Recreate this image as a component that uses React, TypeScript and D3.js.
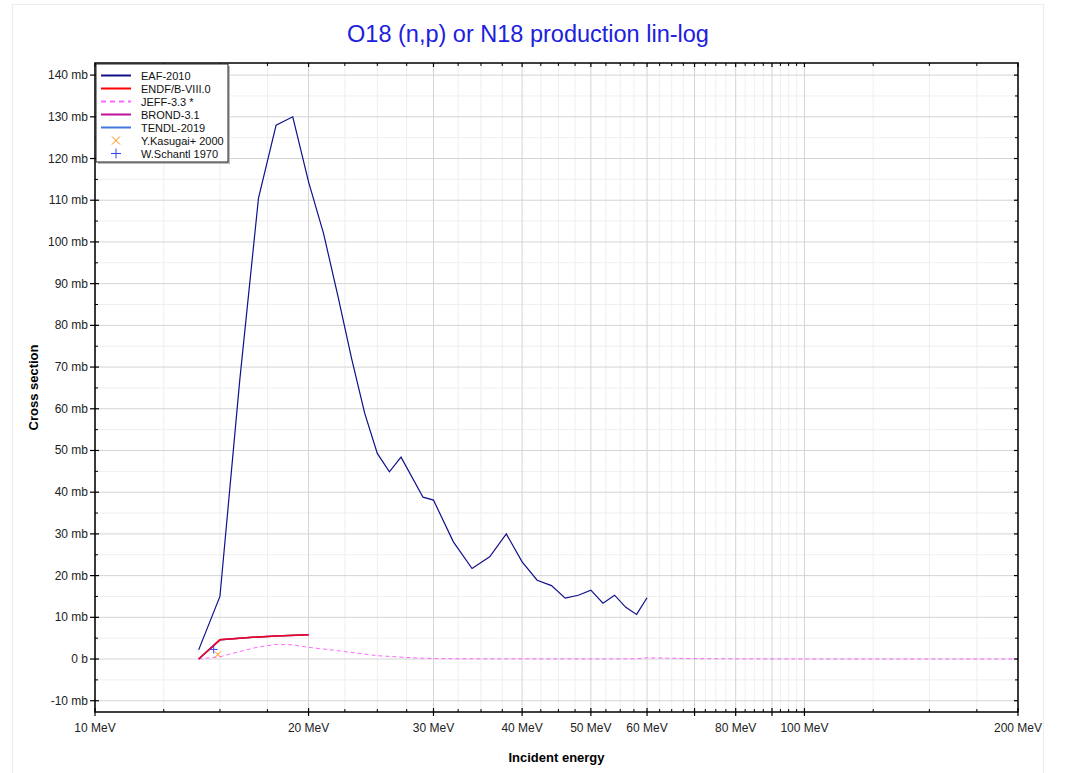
import { useEffect, useRef } from "react";
import * as d3 from "d3";

// EAF-2010
const eafE = [14, 15, 16, 17, 18, 19, 20, 21, 22, 23, 24, 25, 26, 27, 29, 30, 32, 34, 36, 38, 40, 42, 44, 46, 48, 50, 52, 54, 56, 58, 60];
const eafV = [2.2, 15, 67, 110.5, 128, 130, 114.4, 102, 87, 72, 58.9, 49.3, 44.9, 48.4, 38.8, 38.1, 28.1, 21.7, 24.5, 30, 23.3, 18.9, 17.6, 14.6, 15.3, 16.5, 13.4, 15.3, 12.4, 10.7, 14.7];

// ENDF/B-VIII.0, BROND-3.1, TENDL-2019 (on top of each other)
const endfE = [14, 15, 17, 18, 20];
const endfV = [0, 4.6, 5.3, 5.5, 5.8];

// JEFF-3.3 *
const jeffE = [14, 15, 16, 17, 18, 19, 20, 22, 25, 28, 30, 35, 40, 50, 58, 60, 70, 80, 100, 150, 200];
const jeffV = [0, 0.55, 1.8, 2.9, 3.5, 3.4, 2.8, 2.0, 0.8, 0.3, 0.1, 0.05, 0.05, 0.03, 0.05, 0.3, 0.1, 0.05, 0.02, 0.01, 0.01];

// experimental points
const kasugaiE = [14.9];
const kasugaiV = [1.1];
const schantlE = [14.7];
const schantlV = [2.3];

const xMajor = [10, 20, 30, 40, 50, 60, 70, 80, 90, 100, 200];
const xLabelled = [10, 20, 30, 40, 50, 60, 80, 100, 200];
const xMinor = [12.5, 15, 17.5, 22.5, 25, 27.5, 32.5, 35, 37.5, 42.5, 45, 47.5, 52.5, 55, 57.5, 62.5, 65, 67.5, 72.5, 75, 77.5, 82.5, 85, 87.5, 92.5, 95, 97.5, 125, 150, 175];
const yMajor = [-10, 0, 10, 20, 30, 40, 50, 60, 70, 80, 90, 100, 110, 120, 130, 140];
const yMinor = [-5, 5, 15, 25, 35, 45, 55, 65, 75, 85, 95, 105, 115, 125, 135];
const yLabel = (v: number) => (v === 0 ? "0 b" : `${v} mb`);

const legendItems = [
  { name: "EAF-2010", color: "#10108a", kind: "line" },
  { name: "ENDF/B-VIII.0", color: "#ff0000", kind: "line" },
  { name: "JEFF-3.3 *", color: "#ff66ff", kind: "dash" },
  { name: "BROND-3.1", color: "#c0109a", kind: "line" },
  { name: "TENDL-2019", color: "#4477dd", kind: "line" },
  { name: "Y.Kasugai+ 2000", color: "#ff8800", kind: "x" },
  { name: "W.Schantl 1970", color: "#3344ee", kind: "plus" },
];

const App = () => {
  const svgRef = useRef<SVGSVGElement | null>(null);

  useEffect(() => {
    const svg = d3.select(svgRef.current);
    svg.selectAll("*").remove();

    const width = 1067,
      height = 773;
    const left = 95,
      right = 1018,
      top = 63,
      bottom = 712;
    const font = "'Liberation Sans', Arial, sans-serif";

    const x = d3.scaleLog().domain([10, 200]).range([left, right]);
    const y = d3.scaleLinear().domain([-12.7, 142.9]).range([bottom, top]);

    svg.append("rect").attr("width", width).attr("height", height).attr("fill", "white");
    svg
      .append("rect")
      .attr("x", 12.5)
      .attr("y", 4.5)
      .attr("width", 1031)
      .attr("height", 790)
      .attr("fill", "none")
      .attr("stroke", "#ececec");

    // grid
    const grid = svg.append("g");
    grid
      .selectAll(".vmin")
      .data(xMinor)
      .enter()
      .append("line")
      .attr("x1", (d) => x(d))
      .attr("x2", (d) => x(d))
      .attr("y1", top)
      .attr("y2", bottom)
      .attr("stroke", "#efefef");
    grid
      .selectAll(".hmin")
      .data(yMinor)
      .enter()
      .append("line")
      .attr("x1", left)
      .attr("x2", right)
      .attr("y1", (d) => y(d))
      .attr("y2", (d) => y(d))
      .attr("stroke", "#efefef");
    grid
      .selectAll(".vmaj")
      .data(xMajor)
      .enter()
      .append("line")
      .attr("x1", (d) => x(d))
      .attr("x2", (d) => x(d))
      .attr("y1", top)
      .attr("y2", bottom)
      .attr("stroke", "#d4d4d4");
    grid
      .selectAll(".hmaj")
      .data(yMajor)
      .enter()
      .append("line")
      .attr("x1", left)
      .attr("x2", right)
      .attr("y1", (d) => y(d))
      .attr("y2", (d) => y(d))
      .attr("stroke", "#d4d4d4");

    // curves
    const line = d3
      .line<[number, number]>()
      .x((d) => x(d[0]))
      .y((d) => y(d[1]));
    const zip = (es: number[], vs: number[]) => es.map((e, i) => [e, vs[i]] as [number, number]);

    const plot = svg.append("g");
    plot
      .append("path")
      .attr("d", line(zip(jeffE, jeffV)))
      .attr("fill", "none")
      .attr("stroke", "#ff66ff")
      .attr("stroke-width", 1)
      .attr("stroke-dasharray", "4,3");
    plot
      .append("path")
      .attr("d", line(zip(endfE, endfV)))
      .attr("fill", "none")
      .attr("stroke", "#4477dd")
      .attr("stroke-width", 1.5);
    plot
      .append("path")
      .attr("d", line(zip(endfE, endfV)))
      .attr("fill", "none")
      .attr("stroke", "#c0109a")
      .attr("stroke-width", 1.5);
    plot
      .append("path")
      .attr("d", line(zip(endfE, endfV)))
      .attr("fill", "none")
      .attr("stroke", "#ff0000")
      .attr("stroke-opacity", 0.8)
      .attr("stroke-width", 1.5);
    plot
      .append("path")
      .attr("d", line(zip(eafE, eafV)))
      .attr("fill", "none")
      .attr("stroke", "#10108a")
      .attr("stroke-width", 1.2);

    zip(kasugaiE, kasugaiV).forEach(([e, v]) => {
      const cx = x(e),
        cy = y(v);
      plot
        .append("path")
        .attr("d", `M${cx - 3},${cy - 3}L${cx + 3},${cy + 3}M${cx - 3},${cy + 3}L${cx + 3},${cy - 3}`)
        .attr("stroke", "#ff8800")
        .attr("stroke-width", 1);
    });
    zip(schantlE, schantlV).forEach(([e, v]) => {
      const cx = x(e),
        cy = y(v);
      plot
        .append("path")
        .attr("d", `M${cx - 4},${cy}L${cx + 4},${cy}M${cx},${cy - 4}L${cx},${cy + 4}`)
        .attr("stroke", "#3344ee")
        .attr("stroke-width", 1);
    });

    // frame + ticks
    const axes = svg.append("g").attr("stroke", "black");
    axes
      .append("rect")
      .attr("x", left)
      .attr("y", top)
      .attr("width", right - left)
      .attr("height", bottom - top)
      .attr("fill", "none")
      .attr("stroke-width", 1.5);
    xMajor.forEach((d) => {
      axes.append("line").attr("x1", x(d)).attr("x2", x(d)).attr("y1", bottom - 4).attr("y2", bottom + 4).attr("stroke-width", 1.2);
      axes.append("line").attr("x1", x(d)).attr("x2", x(d)).attr("y1", top).attr("y2", top + 4).attr("stroke-width", 1.2);
    });
    xMinor.forEach((d) => {
      axes.append("line").attr("x1", x(d)).attr("x2", x(d)).attr("y1", bottom - 3).attr("y2", bottom).attr("stroke-width", 1);
      axes.append("line").attr("x1", x(d)).attr("x2", x(d)).attr("y1", top).attr("y2", top + 3).attr("stroke-width", 1);
    });
    yMajor.forEach((d) => {
      axes.append("line").attr("x1", left - 5).attr("x2", left + 4).attr("y1", y(d)).attr("y2", y(d)).attr("stroke-width", 1.2);
      axes.append("line").attr("x1", right - 4).attr("x2", right).attr("y1", y(d)).attr("y2", y(d)).attr("stroke-width", 1.2);
    });
    yMinor.forEach((d) => {
      axes.append("line").attr("x1", left).attr("x2", left + 3).attr("y1", y(d)).attr("y2", y(d)).attr("stroke-width", 1);
      axes.append("line").attr("x1", right - 3).attr("x2", right).attr("y1", y(d)).attr("y2", y(d)).attr("stroke-width", 1);
    });

    // tick labels
    svg
      .append("g")
      .selectAll("text")
      .data(xLabelled)
      .enter()
      .append("text")
      .attr("x", (d) => x(d))
      .attr("y", bottom + 20)
      .attr("text-anchor", "middle")
      .attr("font-family", font)
      .attr("font-size", 12)
      .attr("fill", "#222")
      .text((d) => `${d} MeV`);
    svg
      .append("g")
      .selectAll("text")
      .data(yMajor)
      .enter()
      .append("text")
      .attr("x", left - 7)
      .attr("y", (d) => y(d) + 4)
      .attr("text-anchor", "end")
      .attr("font-family", font)
      .attr("font-size", 12)
      .attr("fill", "#222")
      .text((d) => yLabel(d));

    // titles
    svg
      .append("text")
      .attr("x", 528)
      .attr("y", 42)
      .attr("text-anchor", "middle")
      .attr("font-family", font)
      .attr("font-size", 23.5)
      .attr("fill", "#2020dd")
      .text("O18 (n,p) or N18 production lin-log");
    svg
      .append("text")
      .attr("x", (left + right) / 2)
      .attr("y", 762)
      .attr("text-anchor", "middle")
      .attr("font-family", font)
      .attr("font-size", 13)
      .attr("font-weight", "bold")
      .text("Incident energy");
    svg
      .append("text")
      .attr("transform", `translate(38,${(top + bottom) / 2}) rotate(-90)`)
      .attr("text-anchor", "middle")
      .attr("font-family", font)
      .attr("font-size", 13)
      .attr("font-weight", "bold")
      .text("Cross section");

    // legend
    const lg = svg.append("g").attr("transform", "translate(96,64)");
    lg.append("rect").attr("x", 2).attr("y", 2).attr("width", 132).attr("height", 98).attr("fill", "#bbb");
    lg.append("rect").attr("width", 132).attr("height", 98).attr("fill", "white").attr("stroke", "#222").attr("stroke-width", 1);
    legendItems.forEach((it, i) => {
      const cy = 11.5 + i * 13;
      if (it.kind === "line" || it.kind === "dash") {
        lg.append("line")
          .attr("x1", 5)
          .attr("x2", 35)
          .attr("y1", cy)
          .attr("y2", cy)
          .attr("stroke", it.color)
          .attr("stroke-width", 2)
          .attr("stroke-dasharray", it.kind === "dash" ? "5,4" : null);
      } else if (it.kind === "x") {
        lg.append("path")
          .attr("d", `M16,${cy - 4}L24,${cy + 4}M16,${cy + 4}L24,${cy - 4}`)
          .attr("stroke", it.color)
          .attr("stroke-width", 1);
      } else {
        lg.append("path")
          .attr("d", `M15,${cy}L25,${cy}M20,${cy - 5}L20,${cy + 5}`)
          .attr("stroke", it.color)
          .attr("stroke-width", 1);
      }
      lg.append("text")
        .attr("x", 45)
        .attr("y", cy + 4)
        .attr("font-family", font)
        .attr("font-size", 11)
        .attr("fill", "#111")
        .text(it.name);
    });
  }, []);

  return (
    <svg
      ref={svgRef}
      width={1067}
      height={773}
      style={{ position: "absolute", left: 0, top: 0 }}
    ></svg>
  );
};

export default App;
